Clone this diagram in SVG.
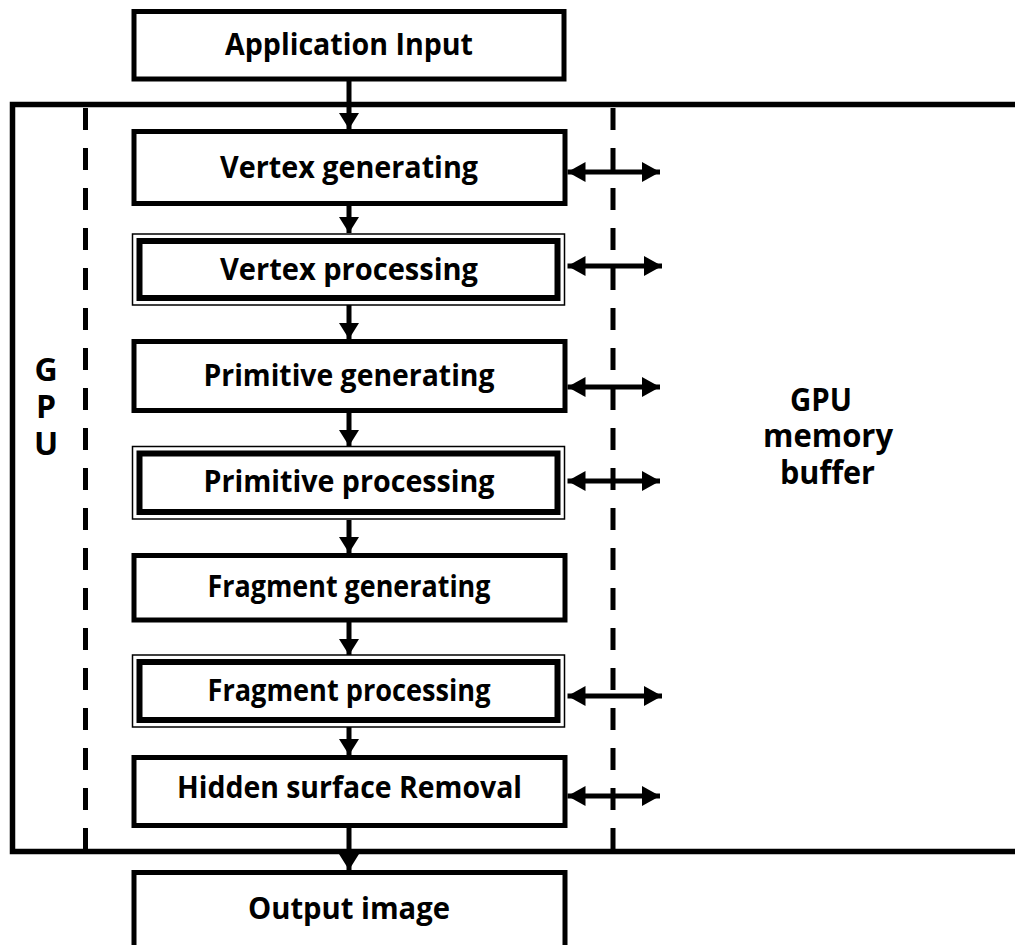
<svg xmlns="http://www.w3.org/2000/svg" width="1015" height="945" viewBox="0 0 1015 945">
  <defs>
    <!-- arrowhead for the downward flow -->
    <marker id="head" viewBox="0 0 16 20" refX="16" refY="10" markerWidth="16" markerHeight="20" markerUnits="userSpaceOnUse" orient="auto-start-reverse">
      <path d="M0,0 L16,10 L0,20 Z" fill="#000"/>
    </marker>
    <!-- arrowhead for the memory bus links -->
    <marker id="bushead" viewBox="0 0 18 20" refX="18" refY="10" markerWidth="18" markerHeight="20" markerUnits="userSpaceOnUse" orient="auto-start-reverse">
      <path d="M0,0 L18,10 L0,20 Z" fill="#000"/>
    </marker>
    <style>
      .box { fill: #fff; stroke: #000; stroke-width: 5; }
      .thin { fill: #fff; stroke: #000; stroke-width: 1.5; }
      .thick { fill: none; stroke: #000; stroke-width: 6; }
      .lbl { font-family: "Open Sans", "Noto Sans", sans-serif; font-weight: bold; font-size: 30px; text-anchor: middle; fill: #000; }
      .side { font-family: "Open Sans", "Noto Sans", sans-serif; font-weight: bold; font-size: 32px; text-anchor: middle; fill: #000; }
      .frame { fill: none; stroke: #000; stroke-width: 5.5; }
      .dash { fill: none; stroke: #000; stroke-width: 5; stroke-dasharray: 22 18; }
      .flow { fill: none; stroke: #000; stroke-width: 5; marker-end: url(#head); }
      .bus { fill: none; stroke: #000; stroke-width: 5; marker-start: url(#bushead); marker-end: url(#bushead); }
    </style>
  </defs>

  <rect width="1015" height="945" fill="#fff"/>

  <!-- GPU enclosure and dashed lanes -->
  <g id="gpu-frame">
    <path class="frame" d="M1020,104.5 H12.5 V851.5 H1020"/>
    <line class="dash" x1="85.5" y1="108" x2="85.5" y2="849"/>
    <line class="dash" x1="613" y1="108" x2="613" y2="849"/>
    <text class="side" x="46" y="381">G</text>
    <text class="side" x="46" y="418">P</text>
    <text class="side" x="46" y="455">U</text>
  </g>

  <g id="memory-buffer">
    <text class="side" x="821" y="411" textLength="62" lengthAdjust="spacingAndGlyphs">GPU</text>
    <text class="side" x="828" y="447" textLength="130" lengthAdjust="spacingAndGlyphs">memory</text>
    <text class="side" x="827.5" y="484" textLength="95" lengthAdjust="spacingAndGlyphs">buffer</text>
  </g>

  <!-- connectors -->
  <g id="connectors">
    <line class="flow" x1="349" y1="79" x2="349" y2="129"/>
    <line class="flow" x1="349" y1="206" x2="349" y2="233"/>
    <line class="flow" x1="349" y1="305" x2="349" y2="339"/>
    <line class="flow" x1="349" y1="413" x2="349" y2="446"/>
    <line class="flow" x1="349" y1="520" x2="349" y2="553"/>
    <line class="flow" x1="349" y1="622" x2="349" y2="655"/>
    <line class="flow" x1="349" y1="727" x2="349" y2="755"/>
    <line class="flow" x1="349" y1="828" x2="349" y2="870"/>

    <line class="bus" x1="567.5" y1="172" x2="660" y2="172"/>
    <line class="bus" x1="567.5" y1="266" x2="662" y2="266"/>
    <line class="bus" x1="567.5" y1="387" x2="660" y2="387"/>
    <line class="bus" x1="567.5" y1="481" x2="660" y2="481"/>
    <line class="bus" x1="567.5" y1="696" x2="662" y2="696"/>
    <line class="bus" x1="567.5" y1="796" x2="660" y2="796"/>
  </g>

  <!-- pipeline stages -->
  <g id="application-input">
    <rect class="box" x="134" y="11.5" width="430" height="67.5"/>
    <text class="lbl" x="349" y="55" textLength="248" lengthAdjust="spacingAndGlyphs">Application Input</text>
  </g>

  <g id="vertex-generating">
    <rect class="box" x="134" y="131.5" width="431" height="72"/>
    <text class="lbl" x="349" y="178" textLength="258" lengthAdjust="spacingAndGlyphs">Vertex generating</text>
  </g>

  <g id="vertex-processing">
    <rect class="thin" x="132.5" y="234" width="432" height="71"/>
    <rect class="thick" x="139.5" y="241" width="418" height="57"/>
    <text class="lbl" x="349" y="280" textLength="258" lengthAdjust="spacingAndGlyphs">Vertex processing</text>
  </g>

  <g id="primitive-generating">
    <rect class="box" x="134" y="341.5" width="431" height="69"/>
    <text class="lbl" x="349" y="386" textLength="291" lengthAdjust="spacingAndGlyphs">Primitive generating</text>
  </g>

  <g id="primitive-processing">
    <rect class="thin" x="132.5" y="446.5" width="432" height="72.5"/>
    <rect class="thick" x="139.5" y="453.5" width="418" height="58.5"/>
    <text class="lbl" x="349" y="492" textLength="291" lengthAdjust="spacingAndGlyphs">Primitive processing</text>
  </g>

  <g id="fragment-generating">
    <rect class="box" x="134" y="555.5" width="431" height="64.5"/>
    <text class="lbl" x="349" y="597" textLength="283" lengthAdjust="spacingAndGlyphs">Fragment generating</text>
  </g>

  <g id="fragment-processing">
    <rect class="thin" x="132.5" y="655" width="432" height="72"/>
    <rect class="thick" x="139.5" y="662" width="418" height="58"/>
    <text class="lbl" x="349" y="701" textLength="283" lengthAdjust="spacingAndGlyphs">Fragment processing</text>
  </g>

  <g id="hidden-surface-removal">
    <rect class="box" x="134" y="757.5" width="431" height="68"/>
    <text class="lbl" x="349.5" y="798" textLength="345" lengthAdjust="spacingAndGlyphs">Hidden surface Removal</text>
  </g>

  <g id="output-image">
    <rect class="box" x="134" y="872.5" width="431" height="90"/>
    <text class="lbl" x="349" y="919" textLength="202" lengthAdjust="spacingAndGlyphs">Output image</text>
  </g>
</svg>
